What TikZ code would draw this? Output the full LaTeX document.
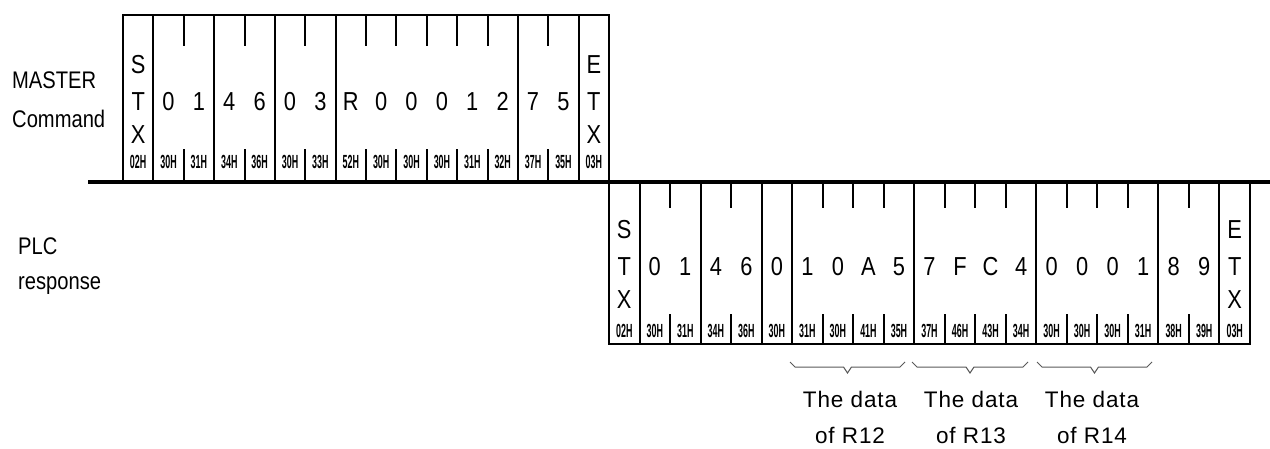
\documentclass[tikz,border=0pt]{standalone}
\usepackage{fontspec}
\setmainfont{Liberation Sans}
\newfontfamily\condf{Liberation Sans}[FakeStretch=0.84]
\newfontfamily\hexf{Liberation Sans}[FakeStretch=0.47]
\newfontfamily\spacedf{Liberation Sans}[LetterSpace=4]
\begin{document}
\begin{tikzpicture}[x=1pt,y=-1pt,
  frameline/.style={line width=2pt,line cap=rect},
  busline/.style={line width=4pt},
  bracestyle/.style={line width=1pt,draw=black!65},
  chr/.style={anchor=base,inner sep=0pt,font=\condf\fontsize{26}{26}\selectfont},
  hexlbl/.style={anchor=base,inner sep=0pt,font=\hexf\bfseries\fontsize{19}{19}\selectfont},
  lbl/.style={anchor=base west,inner sep=0pt,font=\condf\fontsize{24}{24}\selectfont},
  datalbl/.style={anchor=base,inner sep=0pt,font=\spacedf\fontsize{22.5}{22}\selectfont}]
\useasboundingbox (0,0) rectangle (1270,448);

% ---------- labels ----------
\node[lbl] (lm1) at (12,88) {MASTER};
\node[lbl] (lm2) at (12,127) {Command};
\node[lbl] (lp1) at (18,254) {PLC};
\node[lbl] (lp2) at (18,289) {response};

% ---------- master frame ----------
\def\mx{123}\def\mw{30.375}
\draw[frameline] (\mx,15) -- (609,15);
\foreach \b in {0,1,3,5,7,13,15,16}
  \draw[frameline] (\mx+\b*\mw,15) -- (\mx+\b*\mw,182);
\foreach \b in {2,4,6,8,9,10,11,12,14}{
  \draw[frameline] (\mx+\b*\mw,15) -- (\mx+\b*\mw,45);
  \draw[frameline] (\mx+\b*\mw,150) -- (\mx+\b*\mw,182);}
% STX / ETX
\node[chr] (ms1) at (\mx+0.5*\mw,73) {S};
\node[chr] (ms2) at (\mx+0.5*\mw,110) {T};
\node[chr] (ms3) at (\mx+0.5*\mw,143) {X};
\node[chr] (me1) at (\mx+15.5*\mw,73) {E};
\node[chr] (me2) at (\mx+15.5*\mw,110) {T};
\node[chr] (me3) at (\mx+15.5*\mw,143) {X};
\foreach \c [count=\i] in {0,1,4,6,0,3,R,0,0,0,1,2,7,5}
  \node[chr] (mc\i) at (\mx+\i*\mw+0.5*\mw,110) {\c};
\foreach \h [count=\i from 0] in {02H,30H,31H,34H,36H,30H,33H,52H,30H,30H,30H,31H,32H,37H,35H,03H}
  \node[hexlbl] (mh\i) at (\mx+\i*\mw+0.5*\mw,168) {\h};

% ---------- bus line ----------
\coordinate (busL) at (88,182);
\coordinate (busR) at (1270,182);
\draw[busline] (busL) -- (busR);

% ---------- PLC frame ----------
\def\px{609}\def\pw{30.524}
\draw[frameline] (\px,344) -- (1250,344);
\foreach \b in {0,1,3,5,6,10,14,18,20,21}
  \draw[frameline] (\px+\b*\pw,182) -- (\px+\b*\pw,344);
\foreach \b in {2,4,7,8,9,11,12,13,15,16,17,19}{
  \draw[frameline] (\px+\b*\pw,182) -- (\px+\b*\pw,207);
  \draw[frameline] (\px+\b*\pw,315) -- (\px+\b*\pw,344);}
\node[chr] (ps1) at (\px+0.5*\pw,238) {S};
\node[chr] (ps2) at (\px+0.5*\pw,275) {T};
\node[chr] (ps3) at (\px+0.5*\pw,308) {X};
\node[chr] (pe1) at (\px+20.5*\pw,238) {E};
\node[chr] (pe2) at (\px+20.5*\pw,275) {T};
\node[chr] (pe3) at (\px+20.5*\pw,308) {X};
\foreach \c [count=\i] in {0,1,4,6,0,1,0,A,5,7,F,C,4,0,0,0,1,8,9}
  \node[chr] (pc\i) at (\px+\i*\pw+0.5*\pw,275) {\c};
\foreach \h [count=\i from 0] in {02H,30H,31H,34H,36H,30H,31H,30H,41H,35H,37H,46H,43H,34H,30H,30H,30H,31H,38H,39H,03H}
  \node[hexlbl] (ph\i) at (\px+\i*\pw+0.5*\pw,337) {\h};

% ---------- braces ----------
\foreach \a/\b in {790/905,912/1028,1037/1152}{
  \pgfmathsetmacro\m{(\a+\b)/2}
  \draw[bracestyle] (\a,362) -- (\a+5,367) -- (\m-4,367) -- (\m,373) -- (\m+4,367) -- (\b-5,367) -- (\b,362);}

% ---------- data labels ----------
\node[datalbl] (d12a) at (850,407) {The data};
\node[datalbl] (d12b) at (850,443) {of R12};
\node[datalbl] (d13a) at (971,407) {The data};
\node[datalbl] (d13b) at (971,443) {of R13};
\node[datalbl] (d14a) at (1092,407) {The data};
\node[datalbl] (d14b) at (1092,443) {of R14};
\end{tikzpicture}
\end{document}
